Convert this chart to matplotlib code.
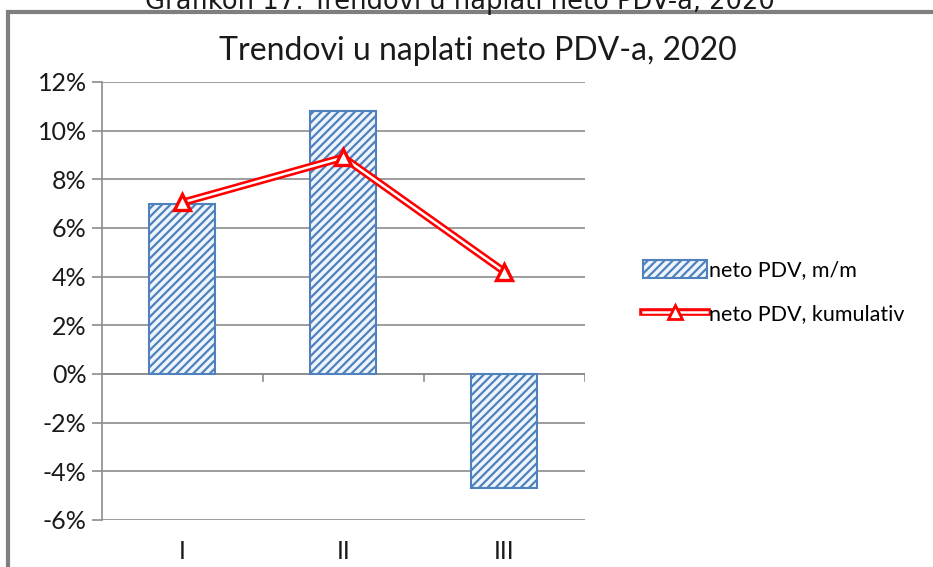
import matplotlib
matplotlib.use("Agg")
import matplotlib.pyplot as plt
from matplotlib.lines import Line2D
from matplotlib.patches import Patch, Rectangle
from matplotlib.ticker import FuncFormatter

# podaci
kvartali = ["I", "II", "III"]
mm = [7.0, 10.8, -4.7]          # neto PDV, m/m (%)
kumulativ = [7.05, 8.9, 4.2]    # neto PDV, kumulativ (%)

plt.rcParams["font.family"] = ["Lato", "DejaVu Sans"]
plt.rcParams["hatch.linewidth"] = 1.6
plt.rcParams["hatch.color"] = "#4f81bd"

fig = plt.figure(figsize=(9.33, 5.67), dpi=100)
ax = fig.add_axes([0.1093, 0.0829, 0.5177, 0.7725])

x = range(len(kvartali))
ax.bar(x, mm, width=0.41, facecolor="#eef5fc", edgecolor="#4f81bd",
       linewidth=1.5, hatch="////", zorder=2)

# dvostruka crvena linija
ax.plot(x, kumulativ, color="#ff0000", lw=5.5, zorder=3, solid_joinstyle="miter")
ax.plot(x, kumulativ, color="white", lw=1.8, zorder=4)
ax.plot(x, kumulativ, ls="none", marker="^", ms=12, mfc="white",
        mec="#ff0000", mew=2.4, zorder=5)

ax.set_xlim(-0.5, 2.5)
ax.set_ylim(-6, 12)
ax.set_yticks(range(-6, 13, 2))
ax.yaxis.set_major_formatter(FuncFormatter(lambda v, p: f"{v:.0f}%"))
ax.set_xticks([])
ax.grid(axis="y", color="#8c8c8c", lw=1.2, zorder=0)
ax.tick_params(axis="y", length=7, color="#8c8c8c", width=1.2,
               labelsize=18, colors="#1a1a1a", pad=4)
for s in ["top", "right", "bottom"]:
    ax.spines[s].set_visible(False)
ax.spines["left"].set_color("#8c8c8c")
ax.spines["left"].set_linewidth(1.2)

# x os na nuli s kvacicama izmedju kategorija
ax.axhline(0, color="#8c8c8c", lw=1.2, zorder=1)
for b in [0.5, 1.5, 2.5]:
    ax.plot([b, b], [0, -0.3], color="#8c8c8c", lw=1.2, zorder=1)
for i, k in enumerate(kvartali):
    ax.text(i, -7.3, k, ha="center", va="center", fontsize=18, color="#1a1a1a")

fig.text(0.512, 0.91, "Trendovi u naplati neto PDV-a, 2020", ha="center",
         va="center", fontsize=23, color="#1a1a1a")

h_bar = Patch(facecolor="#eef5fc", edgecolor="#4f81bd", hatch="////", lw=1.5)
h_line = (Line2D([], [], color="#ff0000", lw=5.5),
          Line2D([], [], color="white", lw=1.8, marker="^", ms=10,
                 mfc="white", mec="#ff0000", mew=2))
fig.legend([h_bar, h_line], ["neto PDV, m/m", "neto PDV, kumulativ"],
           loc="center left", bbox_to_anchor=(0.668, 0.485), frameon=False,
           fontsize=15.5, handlelength=3.0, handleheight=0.9,
           labelspacing=1.1, handletextpad=0.1)

# okvir i odsjeceni naslov grafikona
fig.patches.append(Rectangle((8 / 933, -0.1), 1.2, 1 - 12 / 567 + 0.1,
                             transform=fig.transFigure, fill=False,
                             edgecolor="#7f7f7f", lw=3))
fig.text(0.493, 0.997, "Grafikon 17: Trendovi u naplati neto PDV-a, 2020",
         ha="center", va="center", fontsize=18.5, family="DejaVu Sans",
         color="#1a1a1a")

fig.savefig("out.png", dpi=100)
